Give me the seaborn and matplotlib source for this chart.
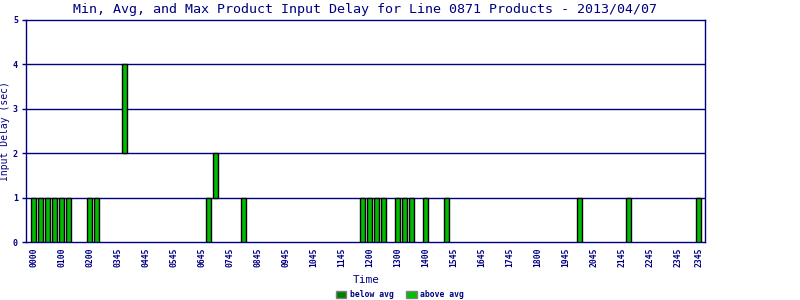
import matplotlib
matplotlib.use("Agg")
import matplotlib.pyplot as plt
from matplotlib.patches import Patch
import seaborn as sns
import pandas as pd

# ---- data ----
bar_slots = [0, 1, 2, 3, 4, 5, 8, 9, 13, 25, 26, 30,
             47, 48, 49, 50, 52, 53, 54, 56, 59, 78, 85, 95]
bar_min = [0, 0, 0, 0, 0, 0, 0, 0, 2, 0, 1, 0,
           0, 0, 0, 0, 0, 0, 0, 0, 0, 0, 0, 0]
bar_max = [1, 1, 1, 1, 1, 1, 1, 1, 4, 1, 2, 1,
           1, 1, 1, 1, 1, 1, 1, 1, 1, 1, 1, 1]
tick_slots = [0, 4, 8, 12, 16, 20, 24, 28, 32, 36, 40, 44, 48, 52, 56,
              60, 64, 68, 72, 76, 80, 84, 88, 92, 95]
tick_labels = ["0000", "0100", "0200", "0345", "0445", "0545", "0645", "0745",
               "0845", "0945", "1045", "1145", "1200", "1300", "1400", "1545",
               "1645", "1745", "1800", "1945", "2045", "2145", "2245", "2345",
               "2345"]
legend_labels = ["below avg", "above avg"]

NAVY = "#000080"
BAR_GREEN = "#00BB00"
LEG_COLORS = ["#008000", "#00C000"]

df = pd.DataFrame({"slot": bar_slots,
                   "span": [b - a for a, b in zip(bar_min, bar_max)],
                   "low": bar_min})

sns.set_style("white")
plt.rcParams["font.family"] = ["DejaVu Sans Mono", "DejaVu Sans"]

fig = plt.figure(figsize=(8, 3), dpi=100)
ax = fig.add_axes([26.3 / 800, 1 - 242 / 300, (705.3 - 26.3) / 800, (242 - 20) / 300])

sns.barplot(data=df, x="slot", y="span", native_scale=True, ax=ax,
            color=BAR_GREEN, saturation=1, width=0.74,
            edgecolor="black", linewidth=1.0, bottom=df["low"].to_numpy(),
            zorder=3)

ax.set_xlim(-1.06, 95.94)
ax.set_ylim(0, 5)
for y in range(1, 5):
    ax.axhline(y, color=NAVY, lw=1.0, zorder=1)

for s in ax.spines.values():
    s.set_color(NAVY)
    s.set_linewidth(1.0)
    s.set_visible(True)

ax.set_xticks(tick_slots)
ax.set_xticklabels(tick_labels, rotation=90, fontsize=5.8, color=NAVY,
                   fontweight="bold", va="top")
ax.set_yticks(range(0, 6))
ax.set_yticklabels([str(i) for i in range(6)], fontsize=6, color=NAVY,
                   fontweight="bold")
ax.tick_params(axis="y", which="major", direction="out", length=3,
               color=NAVY, width=1, pad=3, left=True)
ax.tick_params(axis="x", length=0, pad=4)

ax.set_xlabel("Time", fontsize=8, color=NAVY, labelpad=6)
ax.set_ylabel("Input Delay (sec)", fontsize=7, color=NAVY, labelpad=2)

fig.text(365 / 800, 1 - 10 / 300,
         "Min, Avg, and Max Product Input Delay for Line 0871 Products - 2013/04/07",
         ha="center", va="center", fontsize=9.6, color=NAVY)

handles = [Patch(facecolor=c, edgecolor="#808080", linewidth=1) for c in LEG_COLORS]
leg = fig.legend(handles, legend_labels, loc="center", ncol=2,
                 bbox_to_anchor=(400 / 800, 1 - 294.5 / 300), frameon=False,
                 fontsize=5.8, handlelength=1.3, handleheight=1.0,
                 handletextpad=0.4, columnspacing=1.6, borderpad=0)
for t in leg.get_texts():
    t.set_color(NAVY)
    t.set_fontweight("bold")

fig.savefig("out.png", dpi=100)
